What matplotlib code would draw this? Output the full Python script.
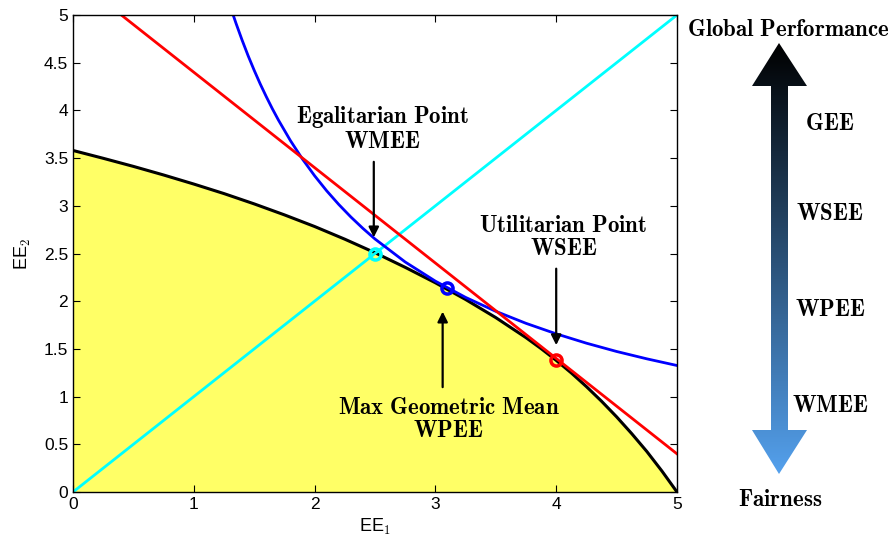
import matplotlib as mpl
mpl.use('Agg')
import matplotlib.pyplot as plt
import numpy as np
from matplotlib.patches import Polygon

plt.rcParams['font.family'] = ['Liberation Sans', 'DejaVu Sans']
plt.rcParams['mathtext.fontset'] = 'cm'

# feasible region boundary
front_x = [0, 0.25, 0.5, 0.75, 1.0, 1.25, 1.5, 1.75, 2.0, 2.25, 2.5, 2.75, 3.0,
           3.25, 3.5, 3.75, 3.875, 4.0, 4.125, 4.25, 4.375, 4.5, 4.625, 4.75, 4.875, 5.0]
front_y = [3.580, 3.498, 3.413, 3.323, 3.228, 3.128, 3.020, 2.905, 2.783, 2.650, 2.508,
           2.355, 2.193, 2.018, 1.828, 1.618, 1.503, 1.380, 1.248, 1.105, 0.952, 0.788,
           0.612, 0.425, 0.220, 0.0]

# level curve of the product (blue)
prod_x = [1.33, 1.35, 1.4, 1.45, 1.5, 1.55, 1.6, 1.65, 1.7, 1.8, 1.9, 2.0, 2.1, 2.2,
          2.3, 2.4, 2.5, 2.75, 3.0, 3.25, 3.5, 3.75, 4.0, 4.25, 4.5, 4.75, 5.0]
prod_y = [4.985, 4.911, 4.736, 4.572, 4.420, 4.277, 4.144, 4.018, 3.900, 3.683, 3.489,
          3.315, 3.157, 3.014, 2.883, 2.763, 2.652, 2.411, 2.210, 2.040, 1.894, 1.768,
          1.658, 1.560, 1.473, 1.396, 1.326]

# level line of the sum (red)
sum_x = [0.4, 5.0]
sum_y = [5.0, 0.4]

# equal line (cyan)
eq_x = [0, 5]
eq_y = [0, 5]

# operating points
pts_x = [2.5, 3.1, 4.0]
pts_y = [2.5, 2.14, 1.38]
pts_c = ['cyan', 'blue', 'red']

side_labels = ['GEE', 'WSEE', 'WPEE', 'WMEE']


def bf(s):
    return r'$\mathbf{' + s.replace(' ', r'\ ') + '}$'


fig = plt.figure(figsize=(8.94, 5.4), dpi=100)
ax = fig.add_axes([73 / 894, 48 / 540, 604 / 894, 477 / 540])

ax.fill_between(front_x, front_y, 0, color='#ffff66', lw=0)
ax.plot(front_x, front_y, color='black', lw=2.2, solid_joinstyle='round')
ax.plot(eq_x, eq_y, color='cyan', lw=2)
ax.plot(prod_x, prod_y, color='blue', lw=2, solid_joinstyle='round')
ax.plot(sum_x, sum_y, color='red', lw=2)
for x, y, c in zip(pts_x, pts_y, pts_c):
    ax.plot(x, y, 'o', ms=8, mfc='none', mec=c, mew=2.5)

ax.set_xlim(0, 5)
ax.set_ylim(0, 5)
ax.set_xticks(np.arange(0, 5.1, 1))
ax.set_yticks(np.arange(0, 5.1, 0.5))
ax.set_xticklabels(['0', '1', '2', '3', '4', '5'])
ax.set_yticklabels(['0', '0.5', '1', '1.5', '2', '2.5', '3', '3.5', '4', '4.5', '5'])
ax.tick_params(direction='in', top=True, right=True, length=5, labelsize=12.5)
for sp in ax.spines.values():
    sp.set_linewidth(1.0)
ax.set_xlabel('EE$_1$', fontsize=13, labelpad=4)
ax.set_ylabel('EE$_2$', fontsize=13, labelpad=8)

arr = dict(arrowstyle='-|>', color='black', lw=1.6, mutation_scale=15)
ax.annotate('', xy=(2.49, 2.64), xytext=(2.49, 3.49), arrowprops=arr)
ax.text(2.56, 3.55, bf('Egalitarian Point') + '\n' + bf('WMEE'),
        ha='center', va='bottom', fontsize=16.5, linespacing=1.0)
ax.annotate('', xy=(4.0, 1.51), xytext=(4.0, 2.37), arrowprops=arr)
ax.text(4.06, 2.43, bf('Utilitarian Point') + '\n' + bf('WSEE'),
        ha='center', va='bottom', fontsize=16.5, linespacing=1.0)
ax.annotate('', xy=(3.06, 1.92), xytext=(3.06, 1.07), arrowprops=arr)
ax.text(3.11, 1.01, bf('Max Geometric Mean') + '\n' + bf('WPEE'),
        ha='center', va='top', fontsize=16.5, linespacing=1.0)

# gradient double arrow on the right
ov = fig.add_axes([0, 0, 1, 1])
ov.set_xlim(0, 894)
ov.set_ylim(540, 0)
ov.axis('off')
shape = [(779, 43), (807, 86), (788, 86), (788, 430), (807, 430), (779, 474),
         (752, 430), (771, 430), (771, 86), (752, 86)]
poly = Polygon(shape, closed=True, facecolor='none', edgecolor='none')
ov.add_patch(poly)
top = np.array([0.0, 0.0, 0.0])
bot = np.array([0.33, 0.63, 0.93])
t = np.linspace(0, 1, 256)[:, None]
grad = (top + (bot - top) * t)[:, None, :]
im = ov.imshow(grad, extent=(752, 807, 474, 43), aspect='auto', interpolation='bilinear')
im.set_clip_path(poly)

ov.text(788, 30, bf('Global Performance'), ha='center', va='center', fontsize=16.5)
ov.text(780, 500, bf('Fairness'), ha='center', va='center', fontsize=16.5)
for lab, py in zip(side_labels, [124, 213, 309, 405]):
    ov.text(830, py, bf(lab), ha='center', va='center', fontsize=16.5)

fig.savefig('out.png', dpi=100)
